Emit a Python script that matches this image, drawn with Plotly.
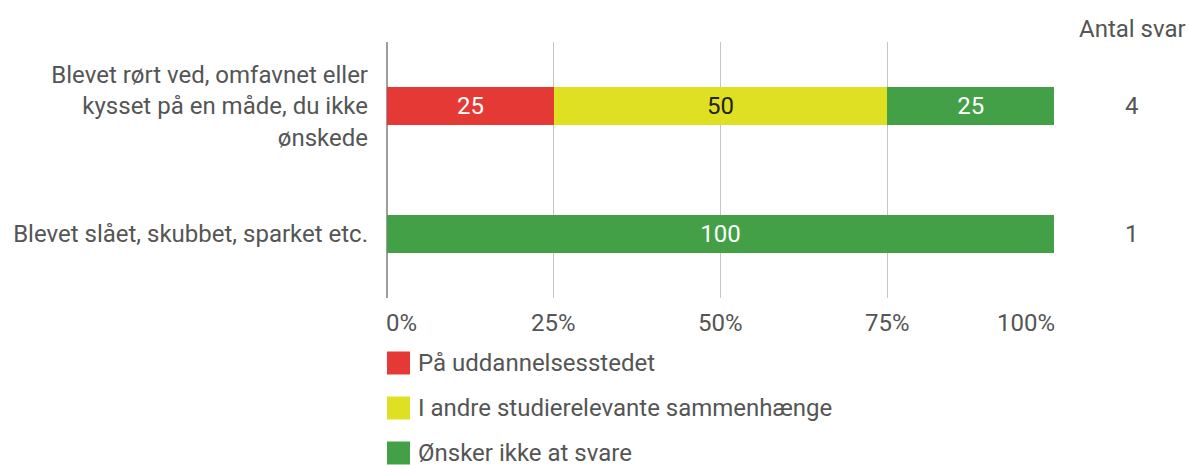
import plotly.graph_objects as go

categories = [
    "Blevet rørt ved, omfavnet eller<br>kysset på en måde, du ikke<br>ønskede",
    "Blevet slået, skubbet, sparket etc.",
]
series_names = ["På uddannelsesstedet", "I andre studierelevante sammenhænge", "Ønsker ikke at svare"]
series_values = [
    [25, None],
    [50, None],
    [25, 100],
]
series_colors = ["#E53935", "#DFE022", "#43A047"]
label_colors = ["#ffffff", "#222222", "#ffffff"]
answer_counts = [4, 1]
x_ticks = [0, 25, 50, 75, 100]
x_tick_labels = ["0%", "25%", "50%", "75%", "100%"]

FONT = "Roboto"
GREY = "#555555"
FS = 24

fig = go.Figure()
for name, vals, col, tcol in zip(series_names, series_values, series_colors, label_colors):
    fig.add_trace(go.Bar(
        y=categories, x=vals, name=name, orientation="h",
        marker=dict(color=col, line=dict(width=0)),
        text=[("" if v is None else str(v)) for v in vals],
        textposition="inside", insidetextanchor="middle",
        textfont=dict(family=FONT, size=FS, color=tcol),
        width=0.3, showlegend=False, hoverinfo="skip",
    ))

W, H = 1190, 465
L, R, T, B = 387, 136, 42, 167
pw, ph = W - L - R, H - T - B

shapes = []
annotations = []

# x tick labels: first left-aligned, last right-aligned, others centred
for i, (tv, tt) in enumerate(zip(x_ticks, x_tick_labels)):
    if i == 0:
        anchor, shift = "left", -3
    elif i == len(x_ticks) - 1:
        anchor, shift = "right", 3
    else:
        anchor, shift = "center", 0
    annotations.append(dict(xref="x", yref="paper", x=tv, y=(H - B - 323) / ph,
                            xanchor=anchor, yanchor="middle", xshift=shift, text=tt,
                            showarrow=False, font=dict(family=FONT, size=FS, color=GREY)))

legend_y_px = [363, 408, 453]
for name, col, ypx in zip(series_names, series_colors, legend_y_px):
    yp = (H - B - ypx) / ph
    shapes.append(dict(type="rect", xref="paper", yref="paper",
                       xsizemode="pixel", ysizemode="pixel",
                       xanchor=0, yanchor=yp, x0=0, x1=23, y0=-11.5, y1=11.5,
                       fillcolor=col, line=dict(width=0)))
    annotations.append(dict(xref="paper", yref="paper", x=(416 - L) / pw, y=yp,
                            xanchor="left", yanchor="middle", text=name, showarrow=False,
                            font=dict(family=FONT, size=FS, color=GREY)))

ax_x = (1132 - L) / pw
annotations.append(dict(xref="paper", yref="paper", x=ax_x, y=(H - B - 29) / ph,
                        xanchor="center", yanchor="middle", text="Antal svar", showarrow=False,
                        font=dict(family=FONT, size=FS, color=GREY)))
for cat, n in zip(categories, answer_counts):
    annotations.append(dict(xref="paper", yref="y", x=ax_x, y=cat,
                            xanchor="center", yanchor="middle", text=str(n), showarrow=False,
                            font=dict(family=FONT, size=FS, color=GREY)))

fig.update_layout(
    width=W, height=H,
    margin=dict(l=L, r=R, t=T, b=B, pad=0, autoexpand=False),
    barmode="stack",
    paper_bgcolor="white", plot_bgcolor="white",
    font=dict(family=FONT, size=FS, color=GREY),
    shapes=shapes, annotations=annotations,
    showlegend=False, hovermode=False,
)
fig.update_xaxes(range=[0, 100], tickmode="array", tickvals=x_ticks, showticklabels=False,
                 showgrid=True, gridcolor="#C4C4C4", gridwidth=1,
                 zeroline=True, zerolinecolor="#9E9E9E", zerolinewidth=2,
                 showline=False, ticks="", automargin=False, fixedrange=True)
fig.update_yaxes(autorange="reversed", showgrid=False, zeroline=False, showline=False,
                 ticks="", ticklabelstandoff=18, automargin=False,
                 tickfont=dict(family=FONT, size=FS, color=GREY), fixedrange=True)

fig.write_html(
    "out.html",
    config={"displayModeBar": False},
    post_script="document.body.style.margin='0';document.body.style.overflow='hidden';",
)
